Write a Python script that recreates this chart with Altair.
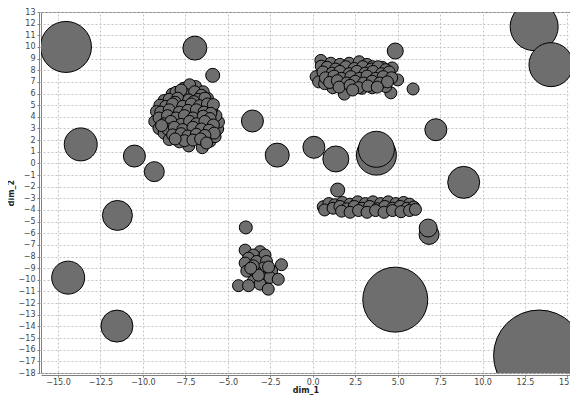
import altair as alt
import pandas as pd

# Isolated (large) points: dim_1, dim_2, weight
big_x = [-14.53, -6.94, -5.89, -13.66, -10.5, -9.33, -11.5, -14.4, -11.53, -3.55, -2.09, 0.07, 1.36,
         3.75, 3.75, 4.86, 5.91, 7.25, 8.89, 6.85, 6.8, 4.86, 13.04, 14.03, 13.33, -3.94, -1.84, 1.47]
big_y = [10.0, 9.9, 7.56, 1.63, 0.63, -0.71, -4.47, -9.81, -13.97, 3.64, 0.71, 1.38, 0.38,
         0.71, 1.21, 9.65, 6.39, 2.89, -1.63, -6.1, -5.55, -11.7, 11.74, 8.48, -16.5, -5.5, -8.7, -2.29]
big_w = [5.1, 2.4, 1.4, 3.3, 2.2, 2.0, 3.0, 3.3, 3.2, 2.2, 2.4, 2.2, 2.6,
         4.0, 3.6, 1.6, 1.2, 2.2, 3.2, 2.0, 1.8, 6.5, 4.8, 4.4, 9.1, 1.3, 1.2, 1.4]

# Cluster A (around -7.3, 4)
a_x = [-6.9, -7.6, -8.28, -8.75, -9.0, -9.2, -9.3, -9.05, -8.75, -8.45, -7.85, -7.3, -6.5, -6.05, -5.75,
       -5.6, -5.55, -5.7, -5.95, -6.2, -6.45, -7.25,
       -8.05, -7.45, -6.95, -6.55, -7.75,
       -8.45, -7.95, -7.3, -6.75, -6.35, -8.1, -7.0,
       -8.65, -8.25, -7.65, -7.15, -6.65, -6.2, -5.85,
       -8.95, -8.45, -7.85, -7.35, -6.85, -6.4, -6.0,
       -9.05, -8.55, -8.05, -7.55, -7.05, -6.45, -6.05,
       -8.75, -8.35, -7.75, -7.25, -6.85, -6.35, -5.85,
       -8.55, -8.15, -7.65, -7.05, -6.55, -6.1, -5.8,
       -8.25, -7.75, -7.35, -6.85, -6.35, -8.9,
       -7.55, -7.05, -6.6, -6.25, -8.1]
a_y = [6.6, 6.45, 5.95, 5.4, 5.0, 4.45, 3.6, 3.0, 2.6, 2.05, 1.85, 1.5, 1.35, 1.9, 2.3,
       2.95, 3.55, 4.1, 4.65, 5.6, 6.15, 6.75,
       6.1, 5.9, 6.15, 5.85, 6.3,
       5.5, 5.6, 5.45, 5.5, 5.6, 5.25, 5.3,
       4.9, 5.1, 4.9, 5.1, 4.95, 5.1, 5.05,
       4.4, 4.6, 4.4, 4.55, 4.6, 4.4, 4.3,
       3.9, 4.1, 3.9, 4.1, 3.9, 4.05, 3.85,
       3.4, 3.6, 3.35, 3.6, 3.4, 3.6, 3.3,
       2.95, 3.1, 2.9, 3.1, 2.95, 2.85, 2.6,
       2.45, 2.55, 2.35, 2.5, 2.4, 3.25,
       1.95, 2.0, 2.1, 1.75, 2.1]

# Cluster B (around 2.7, 7.5)
b_x = [0.48, 0.5, 0.2, 0.35, 1.06, 1.6, 2.15, 2.74, 3.2, 3.52, 4.1, 4.68, 5.0, 4.6, 4.3, 3.5, 2.9, 1.86, 1.18, 0.7,
       0.85, 1.35, 1.95, 2.45, 2.95, 3.45, 3.85, 4.3,
       0.6, 1.15, 1.6, 2.15, 2.6, 3.1, 3.55, 4.05, 4.5,
       0.75, 1.25, 1.7, 2.25, 2.75, 3.2, 3.7, 4.15, 4.65,
       1.0, 1.45, 2.0, 2.5, 3.0, 3.5, 3.95, 4.4,
       1.55, 2.2, 2.7, 3.25, 3.8, 2.35]
b_y = [8.84, 8.35, 7.45, 7.0, 8.6, 8.5, 8.6, 8.73, 8.5, 8.3, 8.25, 8.2, 7.17, 6.06, 6.6, 6.5, 6.45, 5.95, 6.5, 6.85,
       8.25, 8.1, 8.3, 8.15, 8.3, 8.1, 8.3, 8.05,
       7.85, 7.75, 7.9, 7.7, 7.9, 7.75, 7.9, 7.7, 7.85,
       7.35, 7.5, 7.3, 7.45, 7.3, 7.5, 7.3, 7.45, 7.35,
       6.95, 7.1, 6.9, 7.05, 6.9, 7.05, 6.9, 7.0,
       6.55, 6.7, 6.5, 6.65, 6.55, 6.3]

# Cluster C (around 3.5, -3.8)
c_x = [0.62, 0.95, 0.7,
       1.3, 1.75, 2.2, 2.65, 3.1, 3.55, 4.0, 4.45, 4.9, 5.35, 5.7,
       1.2, 1.6, 2.0, 2.45, 2.9, 3.35, 3.8, 4.25, 4.7, 5.15, 5.55, 5.95,
       1.7, 2.2, 2.7, 3.2, 3.7, 4.2, 4.7, 5.2, 5.7, 6.05]
c_y = [-3.72, -3.45, -4.0,
       -3.55, -3.35, -3.5, -3.3, -3.45, -3.3, -3.45, -3.3, -3.45, -3.35, -3.5,
       -3.85, -3.7, -3.9, -3.7, -3.85, -3.7, -3.9, -3.7, -3.85, -3.7, -3.85, -3.75,
       -4.1, -4.2, -4.05, -4.2, -4.05, -4.2, -4.05, -4.15, -4.05, -3.95]

# Cluster D (around -3.2, -9)
d_x = [-3.98, -3.1, -3.49, -2.81, -3.78, -3.3, -2.72, -3.98, -2.9, -3.88, -3.39, -2.42, -3.0, -2.52,
       -2.03, -3.49, -3.1, -4.37, -3.78, -2.62, -3.5, -3.2, -2.6, -3.65]
d_y = [-7.45, -7.58, -7.87, -7.87, -8.14, -8.42, -8.42, -8.56, -8.98, -9.25, -9.25, -9.25, -9.8, -9.8,
       -9.95, -10.1, -10.37, -10.5, -10.5, -10.8, -8.8, -9.6, -8.9, -9.0]
cluster_w = 1.2

x_ticks = [-15.0, -12.5, -10.0, -7.5, -5.0, -2.5, 0.0, 2.5, 5.0, 7.5, 10.0, 12.5, 15.0]
y_ticks = list(range(-18, 14))

rows = []
for x, y, w in zip(big_x, big_y, big_w):
    rows.append({"dim_1": x, "dim_2": y, "w": w})
for xs, ys in [(a_x, a_y), (b_x, b_y), (c_x, c_y), (d_x, d_y)]:
    for x, y in zip(xs, ys):
        rows.append({"dim_1": x, "dim_2": y, "w": cluster_w})
df = pd.DataFrame(rows)
df["i"] = range(len(df))

chart = alt.Chart(df).mark_point(
    shape="circle", filled=True, fill="#6e6e6e", stroke="#000000",
    strokeWidth=1, opacity=1, fillOpacity=1, strokeOpacity=1, clip=True
).encode(
    x=alt.X("dim_1:Q", scale=alt.Scale(domain=[-16, 15.15], nice=False, zero=False),
            axis=alt.Axis(values=x_ticks, format=".1f", title="dim_1", titlePadding=0, labelPadding=1)),
    y=alt.Y("dim_2:Q", scale=alt.Scale(domain=[-18, 13], nice=False, zero=False),
            axis=alt.Axis(values=y_ticks, format="d", title="dim_2", titlePadding=3)),
    size=alt.Size("w:Q", scale=alt.Scale(type="pow", exponent=2, domain=[0, 10], range=[0, 10000]),
                  legend=None),
    order=alt.Order("i:Q"),
).properties(
    width=529, height=361,
    padding={"left": 33, "top": 4, "right": 0, "bottom": 23},
    autosize=alt.AutoSizeParams(type="none"),
).configure_view(
    stroke="#808080", strokeWidth=1
).configure_axis(
    domainColor="#808080", tickColor="#808080", tickSize=2, offset=2,
    gridColor="#c4c4c4", gridDash=[2, 2], gridWidth=1,
    labelFont="DejaVu Sans", labelFontSize=8, labelColor="#444444", labelPadding=2,
    titleFont="DejaVu Sans", titleFontSize=8, titleFontWeight="bold", titleColor="#222222",
)

chart.save("out.html", embed_options={"renderer": "svg", "actions": False})
